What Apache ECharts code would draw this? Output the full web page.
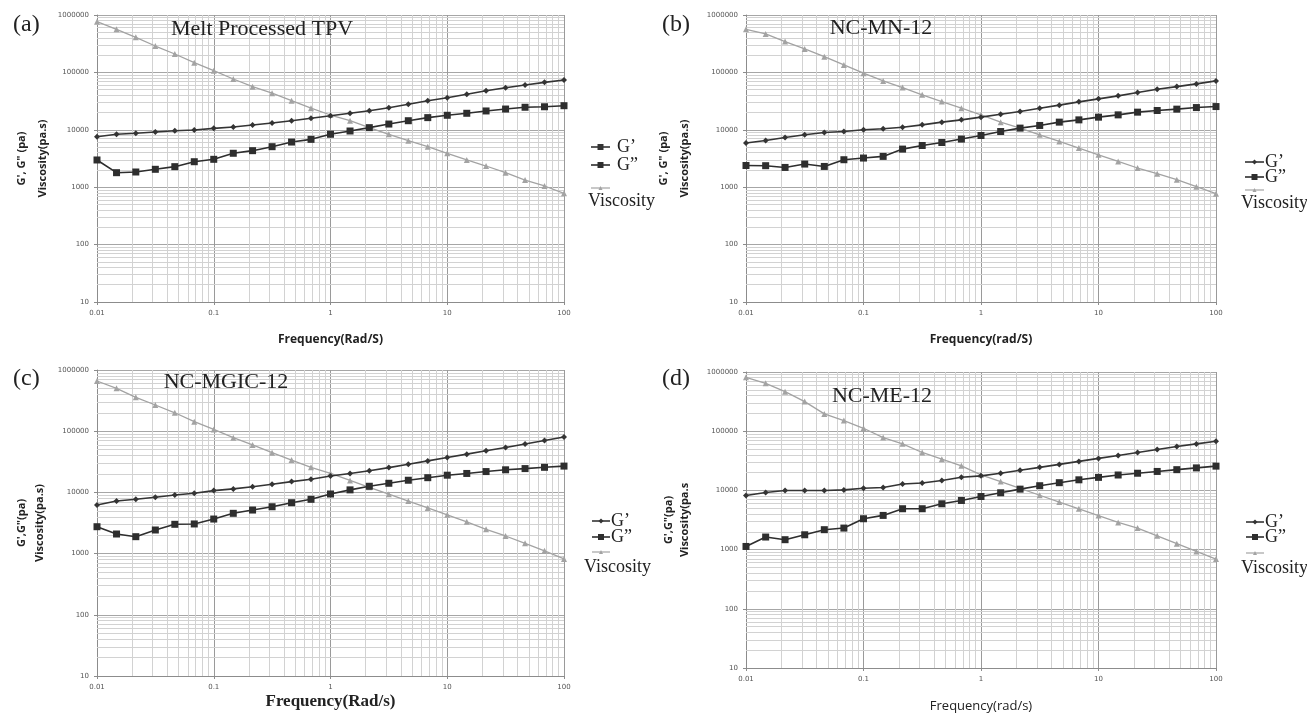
<!DOCTYPE html>
<html>
<head>
<meta charset="utf-8">
<script src="https://cdn.jsdelivr.net/npm/echarts@6/dist/echarts.min.js"></script>
<style>
  html, body { margin: 0; padding: 0; background: #fff; }
  #chart { width: 1307px; height: 717px; }
</style>
</head>
<body>
<div id="chart"></div>
<script>
// Angular frequency sweep, six points per decade (rad/s)
const freq = [0.01, 0.0147, 0.0215, 0.0316, 0.0464, 0.0681, 0.1, 0.147, 0.215, 0.316, 0.464, 0.681,
              1, 1.47, 2.15, 3.16, 4.64, 6.81, 10, 14.7, 21.5, 31.6, 46.4, 68.1, 100];

// (a) Melt Processed TPV
const tpvStorage = [7590, 8360, 8690, 9160, 9640, 9930, 10600, 11200, 12100, 13100, 14400, 15900, 17600,
                    19400, 21500, 24300, 27800, 32100, 36200, 41500, 48000, 54100, 60300, 67100, 73800];
const tpvLoss = [2980, 1790, 1840, 2050, 2280, 2780, 3060, 3900, 4330, 5080, 6120, 6820, 8360,
                 9530, 10900, 12600, 14400, 16300, 17900, 19400, 21300, 23000, 24700, 25200, 26300];
const tpvVisc = [764000, 564000, 408000, 288000, 209000, 148000, 107000, 76700, 56500, 43400, 32200, 23800, 18100,
                 14400, 10900, 8360, 6460, 5080, 3900, 2980, 2340, 1790, 1330, 1050, 783];

// (b) NC-MN-12
const mnStorage = [5870, 6520, 7350, 8180, 8970, 9330, 10000, 10400, 11100, 12200, 13600, 14900, 16600,
                   18700, 20800, 23800, 26900, 30700, 34600, 39000, 44500, 51000, 56600, 63100, 71100];
const mnLoss = [2390, 2370, 2210, 2530, 2300, 3010, 3220, 3440, 4610, 5330, 6010, 6890, 7960,
                9330, 10700, 11900, 13600, 14900, 16600, 18200, 20300, 21700, 22900, 24400, 25400];
const mnVisc = [564000, 468000, 344000, 256000, 188000, 135000, 96800, 71100, 54400, 40600, 31000, 23800, 18200,
                13600, 10700, 8180, 6270, 4810, 3670, 2810, 2160, 1720, 1350, 1020, 771];

// (c) NC-MGIC-12
const mgicStorage = [6220, 7230, 7710, 8320, 9080, 9660, 10700, 11400, 12400, 13600, 15000, 16400, 18500,
                     20400, 22600, 25400, 28800, 32700, 37200, 42200, 47900, 54300, 61700, 70500, 80400];
const mgicLoss = [2750, 2090, 1890, 2430, 3010, 3050, 3670, 4550, 5150, 5830, 6790, 7710, 9420,
                  11000, 12600, 14100, 15800, 17400, 19100, 20400, 21900, 23400, 24500, 25700, 26900];
const mgicVisc = [661000, 502000, 358000, 268000, 200000, 143000, 107000, 78300, 59600, 44600, 33800, 25700, 20500,
                  15700, 12100, 9350, 7210, 5570, 4300, 3310, 2490, 1940, 1470, 1110, 817];

// (d) NC-ME-12
const meStorage = [8200, 9230, 9950, 9950, 9950, 10200, 10900, 11200, 12800, 13300, 14700, 16700, 17600,
                   19500, 21900, 24500, 27500, 30900, 34700, 38900, 43600, 49000, 55000, 61000, 67600];
const meLoss = [1130, 1630, 1470, 1780, 2170, 2310, 3320, 3780, 4900, 4900, 5940, 6760, 7890,
                9120, 10500, 12000, 13500, 15100, 16600, 18200, 19500, 20900, 22400, 24000, 25700];
const meVisc = [815000, 644000, 466000, 316000, 196000, 151000, 112000, 78000, 61100, 43700, 33700, 26000, 18300,
                14100, 10800, 8280, 6350, 4890, 3750, 2880, 2310, 1710, 1260, 933, 693];

// Axis ranges and decade tick labels
const xTicks = ['0.01', '0.1', '1', '10', '100'];
const yTicks = ['10', '100', '1000', '10000', '100000', '1000000'];

const panelTags = ['(a)', '(b)', '(c)', '(d)'];
const panelTitles = ['Melt Processed TPV', 'NC-MN-12', 'NC-MGIC-12', 'NC-ME-12'];
const xNames = ['Frequency(Rad/S)', 'Frequency(rad/S)', 'Frequency(Rad/s)', 'Frequency(rad/s)'];
const yNames = [
  ["G', G\" (pa)", 'Viscosity(pa.s)'],
  ["G', G\" (pa)", 'Viscosity(pa.s)'],
  ["G',G\"(pa)", 'Viscosity(pa.s)'],
  ["G',G\"(pa)", 'Viscosity(pa.s']
];
const seriesNames = ['G’', 'G”', 'Viscosity'];
const storage = [tpvStorage, mnStorage, mgicStorage, meStorage];
const loss = [tpvLoss, mnLoss, mgicLoss, meLoss];
const visc = [tpvVisc, mnVisc, mgicVisc, meVisc];

// Panel geometry and text placement
const layout = [
  { grid: { left: 97, top: 15, width: 467, height: 287 }, yGap: 44, yLH: 21, xGap: 32,
    xFont: { fontFamily: 'Open Sans', fontWeight: 'bold', fontSize: 12 },
    tag: [13, 13], title: [262, 18],
    leg: { x1: 591, x2: 610, tx: 617, rows: [147, 165], vIcon: 188, vText: 201, vx: 588, first: 'rect' } },
  { grid: { left: 746, top: 15, width: 470, height: 287 }, yGap: 51, yLH: 21, xGap: 32,
    xFont: { fontFamily: 'Open Sans', fontWeight: 'bold', fontSize: 12 },
    tag: [662, 13], title: [881, 17],
    leg: { x1: 1245, x2: 1264, tx: 1265, rows: [162, 177], vIcon: 190, vText: 203, vx: 1241, first: 'diamond' } },
  { grid: { left: 97, top: 370, width: 467, height: 306 }, yGap: 48, yLH: 18, xGap: 17,
    xFont: { fontFamily: 'Liberation Serif', fontWeight: 'bold', fontSize: 17 },
    tag: [13, 367], title: [226, 371],
    leg: { x1: 592, x2: 610, tx: 611, rows: [521, 537], vIcon: 552, vText: 567, vx: 584, first: 'diamond' } },
  { grid: { left: 746, top: 372, width: 470, height: 296 }, yGap: 53, yLH: 16, xGap: 32,
    xFont: { fontFamily: 'Open Sans', fontWeight: 'normal', fontSize: 13 },
    tag: [662, 367], title: [882, 385],
    leg: { x1: 1246, x2: 1264, tx: 1265, rows: [522, 537], vIcon: 553, vText: 568, vx: 1241, first: 'diamond' } }
];

// Minor grid positions at 2..9 times each decade
const minorX = [];
for (let d = 0; d < xTicks.length - 1; d++) for (let k = 2; k <= 9; k++) minorX.push(+(Number(xTicks[d]) * k).toPrecision(2));
const minorY = [];
for (let d = 0; d < yTicks.length - 1; d++) for (let k = 2; k <= 9; k++) minorY.push(Number(yTicks[d]) * k);

const fmt = v => String(+Number(v).toPrecision(3));
const pair = vals => freq.map((f, i) => [f, vals[i]]);

const dark = '#343434';
const darkLoss = '#2e2e2e';
const light = '#a3a3a3';

const grids = [], xAxes = [], yAxes = [], series = [], titles = [], graphics = [];

function marker(kind, cx, cy, s, color) {
  if (kind === 'rect') return { type: 'rect', shape: { x: cx - s / 2, y: cy - s / 2, width: s, height: s }, style: { fill: color } };
  if (kind === 'diamond') return { type: 'polygon', shape: { points: [[cx, cy - s / 2], [cx + s / 2, cy], [cx, cy + s / 2], [cx - s / 2, cy]] }, style: { fill: color } };
  return { type: 'polygon', shape: { points: [[cx, cy - s / 2], [cx + s / 2, cy + s / 2], [cx - s / 2, cy + s / 2]] }, style: { fill: color } };
}

layout.forEach((L, p) => {
  grids.push(Object.assign({ containLabel: false }, L.grid));
  xAxes.push({
    type: 'log', gridIndex: p, logBase: 10,
    min: Number(xTicks[0]), max: Number(xTicks[xTicks.length - 1]),
    name: xNames[p], nameLocation: 'middle', nameGap: L.xGap,
    nameTextStyle: Object.assign({ color: '#222' }, L.xFont),
    axisLine: { show: true, lineStyle: { color: '#8c8c8c', width: 1 } },
    axisTick: { show: true, length: 3, lineStyle: { color: '#8c8c8c' } },
    axisLabel: { formatter: fmt, fontSize: 7, color: '#555', margin: 8, fontFamily: 'DejaVu Sans' },
    splitLine: { show: true, lineStyle: { color: '#9a9a9a', width: 1 } }
  });
  yAxes.push({
    type: 'log', gridIndex: p, logBase: 10,
    min: Number(yTicks[0]), max: Number(yTicks[yTicks.length - 1]),
    name: yNames[p].join('\n'), nameLocation: 'middle', nameGap: L.yGap, nameRotate: 90,
    nameTextStyle: { fontFamily: 'Open Sans', fontWeight: 'bold', fontSize: 11, color: '#222', lineHeight: L.yLH },
    axisLine: { show: true, lineStyle: { color: '#8c8c8c', width: 1 } },
    axisTick: { show: true, length: 3, lineStyle: { color: '#8c8c8c' } },
    axisLabel: { formatter: fmt, fontSize: 7, color: '#555', margin: 8, fontFamily: 'DejaVu Sans' },
    splitLine: { show: true, lineStyle: { color: '#a6a6a6', width: 1 } }
  });

  series.push({
    type: 'line', name: seriesNames[0], xAxisIndex: p, yAxisIndex: p, data: pair(storage[p]),
    symbol: 'diamond', symbolSize: 6, z: 4,
    lineStyle: { color: dark, width: 1.6 }, itemStyle: { color: dark },
    emphasis: { disabled: true },
    markLine: {
      silent: true, symbol: 'none', z: 1, animation: false, label: { show: false },
      emphasis: { disabled: true },
      lineStyle: { color: '#d2d2d2', width: 1, type: 'solid' },
      data: minorX.map(v => ({ xAxis: v })).concat(minorY.map(v => ({ yAxis: v })))
    }
  });
  series.push({
    type: 'line', name: seriesNames[1], xAxisIndex: p, yAxisIndex: p, data: pair(loss[p]),
    symbol: 'rect', symbolSize: 7, z: 4,
    lineStyle: { color: darkLoss, width: 1.6 }, itemStyle: { color: darkLoss },
    emphasis: { disabled: true }
  });
  series.push({
    type: 'line', name: seriesNames[2], xAxisIndex: p, yAxisIndex: p, data: pair(visc[p]),
    symbol: 'triangle', symbolSize: 6, z: 3,
    lineStyle: { color: light, width: 1.3 }, itemStyle: { color: light },
    emphasis: { disabled: true }
  });

  titles.push({
    text: panelTitles[p], left: L.title[0], top: L.title[1], textAlign: 'center', padding: 0,
    textStyle: { fontFamily: 'Liberation Serif', fontWeight: 'normal', fontSize: 22, color: '#222' }
  });
  titles.push({
    text: panelTags[p], left: L.tag[0], top: L.tag[1], padding: 0,
    textStyle: { fontFamily: 'Liberation Serif', fontWeight: 'normal', fontSize: 24, color: '#222' }
  });

  // Legend entries
  const g = L.leg, mid = (g.x1 + g.x2) / 2;
  const textStyle = t => ({ text: t, fill: '#222', font: '18px "Liberation Serif"', verticalAlign: 'middle', align: 'left' });
  [[seriesNames[0], g.first, dark, g.first === 'rect' ? 6 : 5], [seriesNames[1], 'rect', darkLoss, 6]].forEach((e, i) => {
    const y = g.rows[i];
    graphics.push({ type: 'line', shape: { x1: g.x1, y1: y, x2: g.x2, y2: y }, style: { stroke: e[2], lineWidth: 1.6 } });
    graphics.push(marker(e[1], mid, y, e[3], e[2]));
    graphics.push({ type: 'text', x: g.tx, y: y, style: textStyle(e[0]) });
  });
  graphics.push({ type: 'line', shape: { x1: g.x1, y1: g.vIcon, x2: g.x2, y2: g.vIcon }, style: { stroke: light, lineWidth: 1.2 } });
  graphics.push(marker('triangle', mid, g.vIcon, 4, light));
  graphics.push({ type: 'text', x: g.vx, y: g.vText, style: textStyle(seriesNames[2]) });
});

const chart = echarts.init(document.getElementById('chart'));
chart.setOption({
  backgroundColor: '#ffffff',
  animation: false,
  title: titles,
  grid: grids,
  xAxis: xAxes,
  yAxis: yAxes,
  series: series,
  graphic: graphics
});
</script>
</body>
</html>
